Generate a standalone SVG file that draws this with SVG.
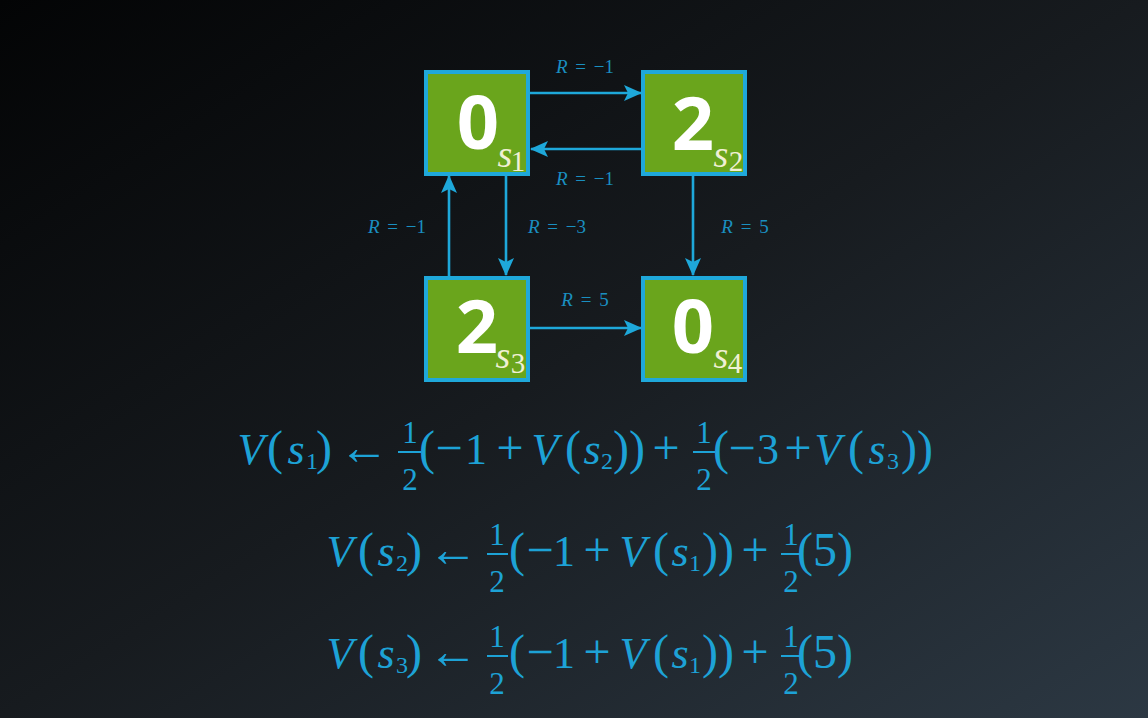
<svg xmlns="http://www.w3.org/2000/svg" width="1148" height="718" viewBox="0 0 1148 718">
<defs>
<linearGradient id="bg" x1="0" y1="0" x2="1" y2="1">
<stop offset="0" stop-color="#030405"/>
<stop offset="0.5" stop-color="#171b1f"/>
<stop offset="1" stop-color="#2c3843"/>
</linearGradient>
<marker id="ah" markerUnits="userSpaceOnUse" markerWidth="18" markerHeight="16" refX="17" refY="8" orient="auto" viewBox="0 0 18 16">
<path d="M0,0 L18,8 L0,16 L4,8 Z" fill="#1ea8da"/>
</marker>
<style>
.node{fill:#6aa51c;stroke:#1fa8da;stroke-width:4}
.big{font-family:"Open Sans","Noto Sans",sans-serif;font-weight:700;font-size:74px;fill:#ffffff;text-anchor:middle}
.sv{font-style:italic;font-size:38px;fill:#f0f0d4;text-anchor:middle}
.sd{font-size:29px;fill:#f0f0d4;text-anchor:middle}
.conn{stroke:#1ea8da;stroke-width:2.6;fill:none;marker-end:url(#ah)}
.lab{font-size:19px;fill:#1a8fc0;text-anchor:middle;word-spacing:3px}
.eq{font-size:44px;fill:#1da2d6}
.it{font-style:italic}
.par{font-size:48px}
.op{font-size:48px}
.arr{font-size:50px}
.sub{font-size:24px}
.frac{font-size:31px;fill:#1da2d6;text-anchor:middle}
.bar{stroke:#1da2d6;stroke-width:2}
</style>
</defs>
<rect x="0" y="0" width="1148" height="718" fill="url(#bg)"/>

<g id="connectors" font-family="Liberation Serif, serif">
<path class="conn" d="M530,93 L641,93"/>
<path class="conn" d="M641,149 L531,149"/>
<path class="conn" d="M506,176 L506,275"/>
<path class="conn" d="M449,276 L449,176"/>
<path class="conn" d="M693,176 L693,275"/>
<path class="conn" d="M530,328 L641,328"/>
<text class="lab" x="585" y="73"><tspan font-style="italic">R</tspan> = −1</text>
<text class="lab" x="585" y="185"><tspan font-style="italic">R</tspan> = −1</text>
<text class="lab" x="397" y="233"><tspan font-style="italic">R</tspan> = −1</text>
<text class="lab" x="557" y="233"><tspan font-style="italic">R</tspan> = −3</text>
<text class="lab" x="745" y="233"><tspan font-style="italic">R</tspan> = 5</text>
<text class="lab" x="585" y="306"><tspan font-style="italic">R</tspan> = 5</text>
</g>

<g id="s1" font-family="Liberation Serif, serif">
<rect class="node" x="426" y="72" width="102" height="102"/>
<text class="big" x="478" y="149">0</text>
<text class="sv" x="505" y="167">s</text>
<text class="sd" x="518" y="171">1</text>
</g>
<g id="s2" font-family="Liberation Serif, serif">
<rect class="node" x="643" y="72" width="102" height="102"/>
<text class="big" x="693" y="150">2</text>
<text class="sv" x="721" y="167">s</text>
<text class="sd" x="736" y="171">2</text>
</g>
<g id="s3" font-family="Liberation Serif, serif">
<rect class="node" x="426" y="278" width="102" height="102"/>
<text class="big" x="477" y="353">2</text>
<text class="sv" x="503" y="368">s</text>
<text class="sd" x="518" y="373">3</text>
</g>
<g id="s4" font-family="Liberation Serif, serif">
<rect class="node" x="643" y="278" width="102" height="102"/>
<text class="big" x="693" y="353">0</text>
<text class="sv" x="721" y="368">s</text>
<text class="sd" x="735" y="373">4</text>
</g>

<g id="eq1" font-family="Liberation Serif, serif">
<text class="eq" text-anchor="middle" y="464"><tspan class="it" x="251">V</tspan><tspan class="par" x="275">(</tspan><tspan class="it" x="296">s</tspan><tspan class="sub" x="312" y="469">1</tspan><tspan class="par" x="324" y="464">)</tspan><tspan class="arr" x="364">←</tspan><tspan class="par" x="427">(</tspan><tspan class="op" x="449">−</tspan><tspan x="476">1</tspan><tspan class="op" x="510">+</tspan><tspan class="it" x="545">V</tspan><tspan class="par" x="573">(</tspan><tspan class="it" x="592">s</tspan><tspan class="sub" x="607" y="469">2</tspan><tspan class="par" x="629" y="464">))</tspan><tspan class="op" x="666">+</tspan><tspan class="par" x="721">(</tspan><tspan class="op" x="742">−</tspan><tspan x="768">3</tspan><tspan class="op" x="798">+</tspan><tspan class="it" x="828">V</tspan><tspan class="par" x="856">(</tspan><tspan class="it" x="877">s</tspan><tspan class="sub" x="893" y="469">3</tspan><tspan class="par" x="917" y="464">))</tspan></text>
<text class="frac" x="410" y="443">1</text><line class="bar" x1="398" y1="452" x2="421" y2="452"/><text class="frac" x="410" y="490">2</text>
<text class="frac" x="704" y="443">1</text><line class="bar" x1="693" y1="452" x2="715" y2="452"/><text class="frac" x="704" y="490">2</text>
</g>

<g id="eq2" font-family="Liberation Serif, serif">
<text class="eq" text-anchor="middle" y="566"><tspan class="it" x="340">V</tspan><tspan class="par" x="366">(</tspan><tspan class="it" x="386">s</tspan><tspan class="sub" x="402" y="571">2</tspan><tspan class="par" x="414" y="566">)</tspan><tspan class="arr" x="453">←</tspan><tspan class="par" x="517">(</tspan><tspan class="op" x="540">−</tspan><tspan x="564">1</tspan><tspan class="op" x="597">+</tspan><tspan class="it" x="633">V</tspan><tspan class="par" x="661">(</tspan><tspan class="it" x="680">s</tspan><tspan class="sub" x="695" y="571">1</tspan><tspan class="par" x="718" y="566">))</tspan><tspan class="op" x="755">+</tspan><tspan class="par" x="825" font-size="46">(5)</tspan></text>
<text class="frac" x="497" y="545">1</text><line class="bar" x1="487" y1="554" x2="508" y2="554"/><text class="frac" x="497" y="592">2</text>
<text class="frac" x="791" y="545">1</text><line class="bar" x1="781" y1="554" x2="801" y2="554"/><text class="frac" x="791" y="592">2</text>
</g>

<g id="eq3" font-family="Liberation Serif, serif">
<text class="eq" text-anchor="middle" y="668"><tspan class="it" x="340">V</tspan><tspan class="par" x="366">(</tspan><tspan class="it" x="386">s</tspan><tspan class="sub" x="402" y="673">3</tspan><tspan class="par" x="414" y="668">)</tspan><tspan class="arr" x="453">←</tspan><tspan class="par" x="517">(</tspan><tspan class="op" x="540">−</tspan><tspan x="564">1</tspan><tspan class="op" x="597">+</tspan><tspan class="it" x="633">V</tspan><tspan class="par" x="661">(</tspan><tspan class="it" x="680">s</tspan><tspan class="sub" x="695" y="673">1</tspan><tspan class="par" x="718" y="668">))</tspan><tspan class="op" x="755">+</tspan><tspan class="par" x="825" font-size="46">(5)</tspan></text>
<text class="frac" x="497" y="647">1</text><line class="bar" x1="487" y1="656" x2="508" y2="656"/><text class="frac" x="497" y="694">2</text>
<text class="frac" x="791" y="647">1</text><line class="bar" x1="781" y1="656" x2="801" y2="656"/><text class="frac" x="791" y="694">2</text>
</g>
</svg>
